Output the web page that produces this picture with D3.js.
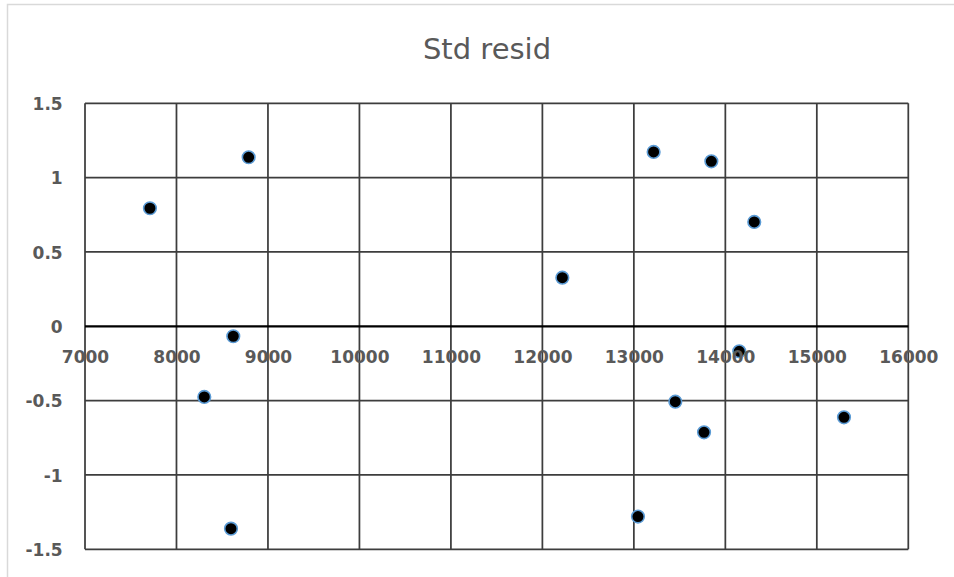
<!DOCTYPE html>
<html>
<head>
<meta charset="utf-8">
<script src="https://cdn.jsdelivr.net/npm/d3@7/dist/d3.min.js"></script>
<style>
  html, body { margin: 0; padding: 0; background: #fff; }
  svg { display: block; }
</style>
</head>
<body>
<svg id="chart" width="954" height="577"></svg>
<script>
const title = "Std resid";
const xValues = [7710, 8789, 8621, 8304, 8596, 12218, 13216, 13847, 14316, 14152, 13453, 13767, 15297, 13045];
const yValues = [0.794, 1.137, -0.067, -0.475, -1.361, 0.327, 1.173, 1.110, 0.702, -0.168, -0.507, -0.713, -0.612, -1.280];
const xTicks = [7000, 8000, 9000, 10000, 11000, 12000, 13000, 14000, 15000, 16000];
const yTicks = [-1.5, -1, -0.5, 0, 0.5, 1, 1.5];

const svg = d3.select("#chart");
const W = 954, H = 577;

// outer chart border
svg.append("rect")
  .attr("x", 7.5).attr("y", 4.5)
  .attr("width", W + 10).attr("height", H + 10)
  .attr("fill", "#fff").attr("stroke", "#d9d9d9").attr("stroke-width", 1.5);

const x = d3.scaleLinear().domain([7000, 16000]).range([85, 908.3]);
const y = d3.scaleLinear().domain([-1.5, 1.5]).range([549.3, 103.3]);

// title
svg.append("text")
  .attr("x", 487).attr("y", 59)
  .attr("text-anchor", "middle")
  .attr("font-family", "DejaVu Sans")
  .attr("font-size", 29)
  .attr("fill", "#595959")
  .text(title);

const grid = svg.append("g");
// horizontal gridlines
grid.selectAll("line.h").data(yTicks.filter(d => d !== 0)).join("line")
  .attr("class", "h")
  .attr("x1", x(7000)).attr("x2", x(16000))
  .attr("y1", d => y(d)).attr("y2", d => y(d))
  .attr("stroke", "#3d3d3d").attr("stroke-width", 1.75);
// vertical gridlines
grid.selectAll("line.v").data(xTicks).join("line")
  .attr("class", "v")
  .attr("x1", d => x(d)).attr("x2", d => x(d))
  .attr("y1", y(1.5)).attr("y2", y(-1.5))
  .attr("stroke", "#3d3d3d").attr("stroke-width", 1.75);
// zero axis line
grid.append("line")
  .attr("x1", x(7000)).attr("x2", x(16000))
  .attr("y1", y(0)).attr("y2", y(0))
  .attr("stroke", "#000").attr("stroke-width", 2.25);

// points
svg.append("g").selectAll("circle").data(xValues.map((v, i) => [v, yValues[i]])).join("circle")
  .attr("cx", d => x(d[0])).attr("cy", d => y(d[1]))
  .attr("r", 6.3)
  .attr("fill", "#000")
  .attr("stroke", "#5b9bd5").attr("stroke-width", 1.6);

// x tick labels (positioned by axis scale near zero line)
const xAxis = d3.axisBottom(x).tickValues(xTicks).tickSize(0).tickPadding(0).tickFormat(d3.format("d"));
const gx = svg.append("g").attr("transform", `translate(0,${y(0)})`).call(xAxis);
gx.select(".domain").remove();
gx.selectAll("text")
  .attr("y", 36.5).attr("dy", null)
  .attr("font-family", "DejaVu Sans").attr("font-weight", "bold")
  .attr("font-size", 17).attr("fill", "#595959");

// y tick labels
const yAxis = d3.axisLeft(y).tickValues(yTicks).tickSize(0).tickPadding(0).tickFormat(d => String(d));
const gy = svg.append("g").attr("transform", `translate(62.7,0)`).call(yAxis);
gy.select(".domain").remove();
gy.selectAll("text")
  .attr("x", 0).attr("dy", "0.36em")
  .attr("font-family", "DejaVu Sans").attr("font-weight", "bold")
  .attr("font-size", 17).attr("fill", "#595959");
</script>
</body>
</html>
